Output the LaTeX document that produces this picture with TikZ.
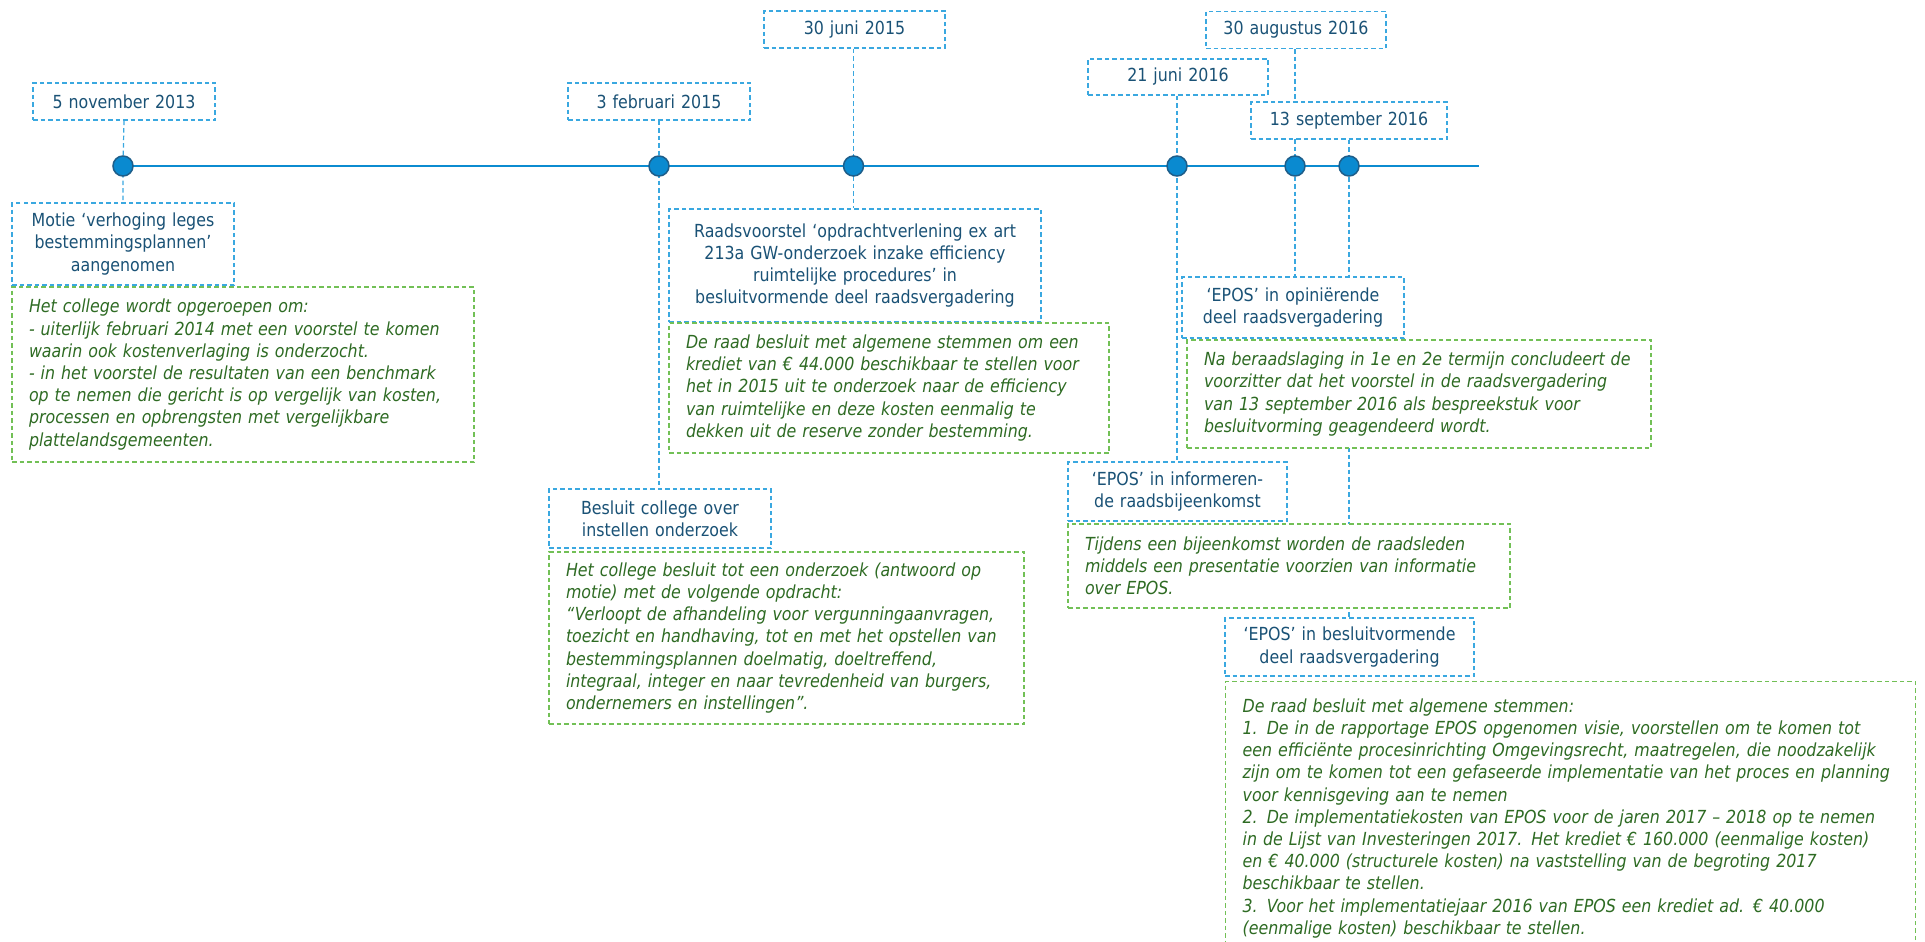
\documentclass[tikz,border=0pt]{standalone}
\usepackage{fontspec}
\setmainfont{DejaVu Sans}[FakeStretch=0.88]
\usetikzlibrary{backgrounds}
\definecolor{boxblue}{HTML}{3AA8E0}
\definecolor{textblue}{HTML}{1A5276}
\definecolor{boxgreen}{HTML}{72C056}
\definecolor{textgreen}{HTML}{2E6B23}
\definecolor{lineblue}{HTML}{0B8BD0}
\definecolor{dotfill}{HTML}{0A8AD0}
\definecolor{dotdraw}{HTML}{1E5E8A}
\newcommand{\boxfont}{\fontsize{18}{22.2}\selectfont}
\tikzset{
  dashy/.style={dash pattern=on 4.5pt off 3pt, line width=1.3pt},
  bluebox/.style={draw=boxblue, dashy, fill=white, text=textblue, align=center, inner sep=0pt, font=\boxfont},
  notebox/.style={draw=boxgreen, dashy, fill=white, text=textgreen, align=left, inner xsep=17pt, inner ysep=0pt, font=\boxfont\itshape},
  link/.style={draw=boxblue, dash pattern=on 4.5pt off 3pt, line width=1.2pt},
  tdot/.style={circle, fill=dotfill, draw=dotdraw, line width=1.5pt, minimum size=20pt, inner sep=0pt},
}
\begin{document}
\begin{tikzpicture}[x=1pt, y=-1pt]
\clip (0,0) rectangle (1925,942);

% date boxes
\node[bluebox, text width=182pt, minimum height=37pt] (d1) at (124,101.5) {5 november 2013};
\node[bluebox, text width=182pt, minimum height=37pt] (d2) at (659,101.5) {3 februari 2015};
\node[bluebox, text width=181pt, minimum height=37pt] (d3) at (854.5,29.5) {30 juni 2015};
\node[bluebox, text width=180pt, minimum height=36pt] (d4) at (1178,77) {21 juni 2016};
\node[bluebox, text width=180pt, minimum height=37pt] (d5) at (1296,30) {30 augustus 2016};
\node[bluebox, text width=196pt, minimum height=37pt] (d6) at (1349,120.5) {13 september 2016};

% event boxes
\node[bluebox, text width=222pt, minimum height=82pt] (e1) at (123,244) {Motie ‘verhoging leges\\bestemmingsplannen’\\aangenomen};
\node[bluebox, text width=222pt, minimum height=59pt] (e2) at (660,518.5) {Besluit college over\\instellen onderzoek};
\node[bluebox, text width=372pt, minimum height=113pt] (e3) at (855,265.5) {Raadsvoorstel ‘opdrachtverlening ex art\\213a GW-onderzoek inzake efficiency\\ruimtelijke procedures’ in\\besluitvormende deel raadsvergadering};
\node[bluebox, text width=219pt, minimum height=59pt] (e4) at (1177.5,491.5) {‘EPOS’ in informeren-\\de raadsbijeenkomst};
\node[bluebox, text width=222pt, minimum height=61pt] (e5) at (1293,307.5) {‘EPOS’ in opiniërende\\deel raadsvergadering};
\node[bluebox, text width=249pt, minimum height=58pt] (e6) at (1349.5,647) {‘EPOS’ in besluitvormende\\deel raadsvergadering};

% note boxes
\node[notebox, text width=428pt, minimum height=175pt] (n1) at (243,374.5) {Het college wordt opgeroepen om:\\- uiterlijk februari 2014 met een voorstel te komen\\waarin ook kostenverlaging is onderzocht.\\- in het voorstel de resultaten van een benchmark\\op te nemen die gericht is op vergelijk van kosten,\\processen en opbrengsten met vergelijkbare\\plattelandsgemeenten.};
\node[notebox, text width=441pt, minimum height=172pt] (n2) at (786.5,638) {Het college besluit tot een onderzoek (antwoord op\\motie) met de volgende opdracht:\\“Verloopt de afhandeling voor vergunningaanvragen,\\toezicht en handhaving, tot en met het opstellen van\\bestemmingsplannen doelmatig, doeltreffend,\\integraal, integer en naar tevredenheid van burgers,\\ondernemers en instellingen”.};
\node[notebox, text width=406pt, minimum height=130pt] (n3) at (889,388) {De raad besluit met algemene stemmen om een\\krediet van € 44.000 beschikbaar te stellen voor\\het in 2015 uit te onderzoek naar de efficiency\\van ruimtelijke en deze kosten eenmalig te\\dekken uit de reserve zonder bestemming.};
\node[notebox, text width=408pt, minimum height=84pt] (n4) at (1289,566) {Tijdens een bijeenkomst worden de raadsleden\\middels een presentatie voorzien van informatie\\over EPOS.};
\node[notebox, text width=430pt, minimum height=108pt] (n5) at (1419,394) {Na beraadslaging in 1e en 2e termijn concludeert de\\voorzitter dat het voorstel in de raadsvergadering\\van 13 september 2016 als bespreekstuk voor\\besluitvorming geagendeerd wordt.};
\node[notebox, text width=656pt, inner ysep=17pt, anchor=north west] (n6) at (1225,681) {De raad besluit met algemene stemmen:\\1. De in de rapportage EPOS opgenomen visie, voorstellen om te komen tot\\een efficiënte procesinrichting Omgevingsrecht, maatregelen, die noodzakelijk\\zijn om te komen tot een gefaseerde implementatie van het proces en planning\\voor kennisgeving aan te nemen\\2. De implementatiekosten van EPOS voor de jaren 2017 – 2018 op te nemen\\in de Lijst van Investeringen 2017. Het krediet € 160.000 (eenmalige kosten)\\en € 40.000 (structurele kosten) na vaststelling van de begroting 2017\\beschikbaar te stellen.\\3. Voor het implementatiejaar 2016 van EPOS een krediet ad. € 40.000\\(eenmalige kosten) beschikbaar te stellen.};

% timeline points
\coordinate (tl1) at (123,166);
\coordinate (tl2) at (659,166);
\coordinate (tl3) at (853.5,166);
\coordinate (tl4) at (1177,166);
\coordinate (tl5) at (1295,166);
\coordinate (tl6) at (1349,166);
\coordinate (tlend) at (1479,166);

\begin{pgfonlayer}{background}
\draw[lineblue, line width=1.3pt] (tl1) -- (tlend);
\draw[link] (d1.south) -- (tl1) -- (e1.north);
\draw[link] (d2.south) -- (tl2) -- (tl2 |- e2.north);
\draw[link] (d3.south -| tl3) -- (tl3) -- (tl3 |- e3.north);
\draw[link] (d4.south -| tl4) -- (tl4) -- (tl4 |- e4.north);
\draw[link] (d5.south -| tl5) -- (tl5) -- (tl5 |- e5.north);
\draw[link] (d6.south -| tl6) -- (tl6) -- (tl6 |- e6.north);
\end{pgfonlayer}

\node[tdot] (p1) at (tl1) {};
\node[tdot] (p2) at (tl2) {};
\node[tdot] (p3) at (tl3) {};
\node[tdot] (p4) at (tl4) {};
\node[tdot] (p5) at (tl5) {};
\node[tdot] (p6) at (tl6) {};
\end{tikzpicture}
\end{document}
